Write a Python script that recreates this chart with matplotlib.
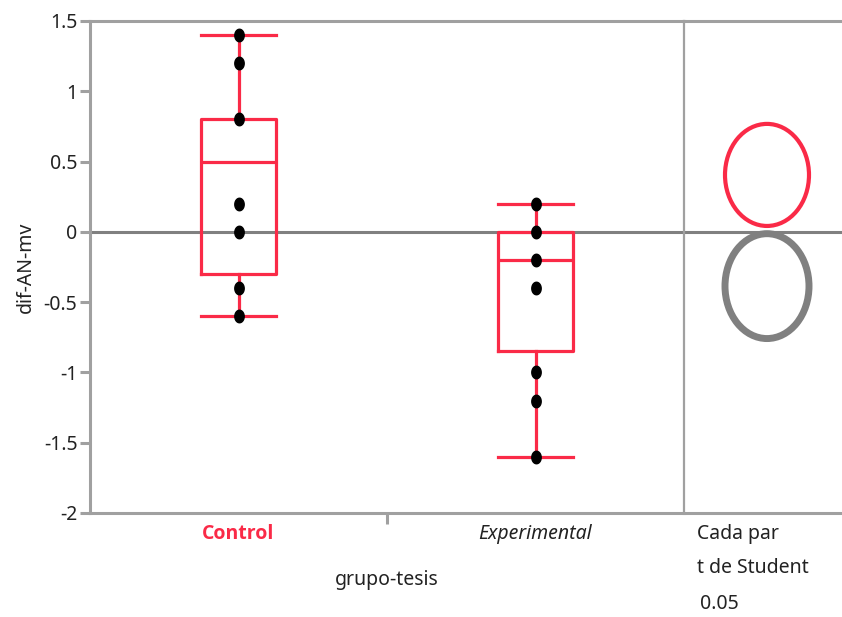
import matplotlib
matplotlib.use("Agg")
import matplotlib.pyplot as plt
import numpy as np
from matplotlib.path import Path
from matplotlib.patches import Ellipse

plt.rcParams['font.family'] = ['Noto Sans', 'DejaVu Sans']

# ---- data ----
categories = ["Control", "Experimental"]
control_points = [1.4, 1.2, 0.8, 0.2, 0.0, -0.4, -0.6]
experimental_points = [0.2, 0.0, -0.2, -0.4, -1.0, -1.2, -1.6]
box_whislo = [-0.6, -1.6]
box_q1 = [-0.3, -0.85]
box_med = [0.5, -0.2]
box_q3 = [0.8, 0.0]
box_whishi = [1.4, 0.2]
circle_centers = [0.405, -0.386]
circle_radii = [0.363, 0.373]
yticks = [1.5, 1, 0.5, 0, -0.5, -1, -1.5, -2]
ytick_labels = ["1.5", "1", "0.5", "0", "-0.5", "-1", "-1.5", "-2"]
y_label = "dif-AN-mv"
x_label = "grupo-tesis"
panel_texts = ["Cada par", "t de Student", "0.05"]

RED = "#FA2A47"
GRAY = "#A0A0A0"
DGRAY = "#808080"
TXT = "#222222"
FS = 14

W, H = 842, 617
fig = plt.figure(figsize=(W / 100, H / 100), dpi=100)
L, R, T, B, D = 90, 842, 21, 513, 684
ax = fig.add_axes([L / W, (H - B) / H, (D - L) / W, (B - T) / H])
ax2 = fig.add_axes([D / W, (H - B) / H, (R - D) / W, (B - T) / H], sharey=ax)

ax.set_xlim(-0.5, 1.5)
ax.set_ylim(-2, 1.5)

# zero line
for a in (ax, ax2):
    a.axhline(0, color=DGRAY, lw=2.2, zorder=1)

# boxes
stats = []
for i, name in enumerate(categories):
    stats.append(dict(label=name, whislo=box_whislo[i], q1=box_q1[i], med=box_med[i],
                      q3=box_q3[i], whishi=box_whishi[i], fliers=[]))
lp = dict(color=RED, linewidth=2.3)
ax.bxp(stats, positions=[0, 1], widths=0.25, capwidths=0.25, showfliers=False,
       boxprops=lp, whiskerprops=lp, capprops=lp, medianprops=lp,
       manage_ticks=False, zorder=2)

# points (slightly tall ellipse marker)
t = np.linspace(0, 2 * np.pi, 40)
ell = Path(np.column_stack([0.75 * np.cos(t), np.sin(t)]), closed=True)
for i, pts in enumerate([control_points, experimental_points]):
    ax.plot(np.full(len(pts), i), pts, linestyle='none', marker=ell,
            markersize=9, color='black', zorder=3)

# axes styling
ax.spines['right'].set_visible(False)
for s in ['left', 'top', 'bottom']:
    ax.spines[s].set_color(GRAY)
    ax.spines[s].set_linewidth(2.2)
ax.set_yticks(yticks)
ax.set_yticklabels(ytick_labels)
ax.tick_params(axis='y', direction='out', length=7, width=2.2, color=GRAY,
               labelsize=FS, pad=2, labelcolor=TXT)
ax.set_xticks([0.5], minor=True)
ax.tick_params(axis='x', which='minor', length=8, width=2.2, color=GRAY, direction='out')
ax.set_xticks([0, 1])
ax.set_xticklabels([])
ax.tick_params(axis='x', which='major', length=0)

# category labels
xt = ax.get_xaxis_transform()
ax.text(0, -0.042, categories[0], transform=xt, ha='center', va='center',
        fontsize=FS, color=RED, fontweight='bold', family=['Open Sans', 'DejaVu Sans'])
ax.text(1, -0.042, categories[1], transform=xt, ha='center', va='center',
        fontsize=FS, color=TXT, fontstyle='italic')
ax.text(0.5, -0.137, x_label, transform=xt, ha='center', va='center',
        fontsize=FS, color=TXT)
ax.set_ylabel(y_label, fontsize=FS, labelpad=6, color=TXT)

# comparison circles panel
ax2.set_xlim(0, 1)
ax2.set_xticks([])
ax2.tick_params(axis='y', left=False, labelleft=False)
ax2.spines['right'].set_visible(False)
for s in ['top', 'bottom']:
    ax2.spines[s].set_color(GRAY)
    ax2.spines[s].set_linewidth(2.2)
ax2.spines['left'].set_color(GRAY)
ax2.spines['left'].set_linewidth(1.6)
cols = [RED, DGRAY]
lws = [3.0, 5.0]
xc = (767 - D) / (R - D)
wpx = 84 / (R - D)
for c, r, col, lw in zip(circle_centers, circle_radii, cols, lws):
    ax2.add_patch(Ellipse((xc, c), wpx, 2 * r, fill=False, edgecolor=col, lw=lw, zorder=3))

ys = [534, 568, 604]
xs = [697, 697, 700]
for txt, x, y in zip(panel_texts, xs, ys):
    fig.text(x / W, 1 - y / H, txt, fontsize=FS, ha='left', va='center', color=TXT)

fig.savefig("out.png", dpi=100)
